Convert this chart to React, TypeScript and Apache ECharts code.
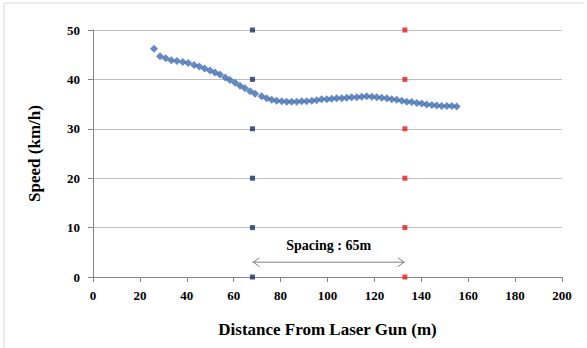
import React, { useEffect, useRef } from "react";
import * as echarts from "echarts";

const distance = [
  26.0, 28.6, 31.0, 33.4, 35.8, 38.3, 40.6, 43.1, 45.3, 47.6,
  49.9, 52.0, 54.1, 56.4, 58.4, 60.6, 62.7, 64.8, 67.0, 69.1,
  71.9, 74.1, 76.2, 78.3, 80.5, 82.6, 84.7, 86.9, 89.0, 91.1,
  93.3, 95.4, 97.5, 99.7, 101.8, 103.9, 106.1, 108.2, 110.3, 112.5,
  114.6, 116.7, 118.9, 121.0, 123.1, 125.3, 127.4, 129.5, 131.7, 133.8,
  135.9, 138.1, 140.2, 142.3, 144.5, 146.6, 148.7, 150.9, 153.0, 155.1,
];
const speed = [
  46.2, 44.7, 44.3, 43.9, 43.7, 43.5, 43.3, 42.9, 42.6, 42.2,
  41.8, 41.4, 41.0, 40.4, 39.9, 39.3, 38.7, 38.2, 37.6, 37.1,
  36.6, 36.2, 35.9, 35.7, 35.6, 35.5, 35.5, 35.5, 35.6, 35.6,
  35.7, 35.8, 36.0, 36.0, 36.1, 36.2, 36.2, 36.3, 36.4, 36.4,
  36.5, 36.6, 36.5, 36.4, 36.3, 36.2, 36.0, 35.9, 35.7, 35.5,
  35.4, 35.2, 35.1, 34.9, 34.8, 34.7, 34.6, 34.6, 34.6, 34.5,
];
const gunA = 68;
const gunB = 133;
const markerLevels = [0, 10, 20, 30, 40, 50];
const spacingLabel = "Spacing : 65m";
const arrowLevel = 3;

const FONT = "'Liberation Serif', 'Times New Roman', serif";

export default function App() {
  const ref = useRef<HTMLDivElement>(null);
  useEffect(() => {
    const chart = echarts.init(ref.current!, null, { renderer: "svg" });
    const option: any = {
      animation: false,
      backgroundColor: "#ffffff",
      grid: { left: 93, right: 25, top: 30, bottom: 71 },
      xAxis: {
        type: "value",
        min: 0,
        max: 200,
        interval: 20,
        name: "Distance From Laser Gun (m)",
        nameLocation: "middle",
        nameGap: 44,
        nameTextStyle: { fontFamily: FONT, fontWeight: "bold", fontSize: 17, color: "#000" },
        axisLine: { show: true, lineStyle: { color: "#868686", width: 1 } },
        axisTick: { show: true, length: 5, lineStyle: { color: "#868686" } },
        axisLabel: { fontFamily: FONT, fontWeight: "bold", fontSize: 13, color: "#000", margin: 12 },
        splitLine: { show: false },
      },
      yAxis: {
        type: "value",
        min: 0,
        max: 50,
        interval: 10,
        name: "Speed (km/h)",
        nameLocation: "middle",
        nameGap: 50,
        nameRotate: 90,
        nameTextStyle: { fontFamily: FONT, fontWeight: "bold", fontSize: 17, color: "#000" },
        axisLine: { show: true, lineStyle: { color: "#868686", width: 1 } },
        axisTick: { show: true, length: 5, lineStyle: { color: "#868686" } },
        axisLabel: { fontFamily: FONT, fontWeight: "bold", fontSize: 13, color: "#000", margin: 13 },
        splitLine: { show: true, lineStyle: { color: "#BFBFBF", width: 1 } },
      },
      graphic: [
        { type: "line", shape: { x1: 4, y1: 3, x2: 584, y2: 3 }, style: { stroke: "#D9D9D9", lineWidth: 1 } },
        { type: "line", shape: { x1: 4, y1: 3, x2: 4, y2: 348 }, style: { stroke: "#D9D9D9", lineWidth: 1 } },
      ],
      series: [
        {
          type: "scatter",
          data: distance.map((d, i) => [d, speed[i]]),
          symbol: "diamond",
          symbolSize: [8, 8],
          itemStyle: { color: "#3F6DB2" },
          z: 3,
        },
        {
          type: "scatter",
          data: markerLevels.map((v) => [gunA, v]),
          symbol: "rect",
          symbolSize: 5,
          itemStyle: { color: "#14306E" },
          z: 4,
        },
        {
          type: "scatter",
          data: markerLevels.map((v) => [gunB, v]),
          symbol: "rect",
          symbolSize: 5,
          itemStyle: { color: "#E31A1A" },
          z: 4,
        },
        {
          type: "custom",
          data: [[gunA, gunB, arrowLevel]],
          z: 5,
          renderItem: (params: any, api: any) => {
            const p1 = api.coord([api.value(0), api.value(2)]);
            const p2 = api.coord([api.value(1), api.value(2)]);
            const h = 4.5;
            const w = 7;
            const stroke = { stroke: "#7F7F7F", lineWidth: 1, fill: "none" };
            return {
              type: "group",
              children: [
                { type: "line", shape: { x1: p1[0], y1: p1[1], x2: p2[0], y2: p2[1] }, style: stroke },
                {
                  type: "polyline",
                  shape: { points: [[p1[0] + w, p1[1] - h], [p1[0] + 1, p1[1]], [p1[0] + w, p1[1] + h]] },
                  style: stroke,
                },
                {
                  type: "polyline",
                  shape: { points: [[p2[0] - w, p2[1] - h], [p2[0] - 1, p2[1]], [p2[0] - w, p2[1] + h]] },
                  style: stroke,
                },
                {
                  type: "text",
                  x: (p1[0] + p2[0]) / 2,
                  y: p1[1] - 17,
                  style: {
                    text: spacingLabel,
                    fontFamily: FONT,
                    fontWeight: "bold",
                    fontSize: 14,
                    fill: "#000",
                    align: "center",
                    verticalAlign: "middle",
                  },
                },
              ],
            };
          },
        },
      ],
    };
    chart.setOption(option);
    return () => chart.dispose();
  }, []);
  return (
    <div
      ref={ref}
      style={{ position: "fixed", left: 0, top: 0, width: 587, height: 348 }}
    />
  );
}
